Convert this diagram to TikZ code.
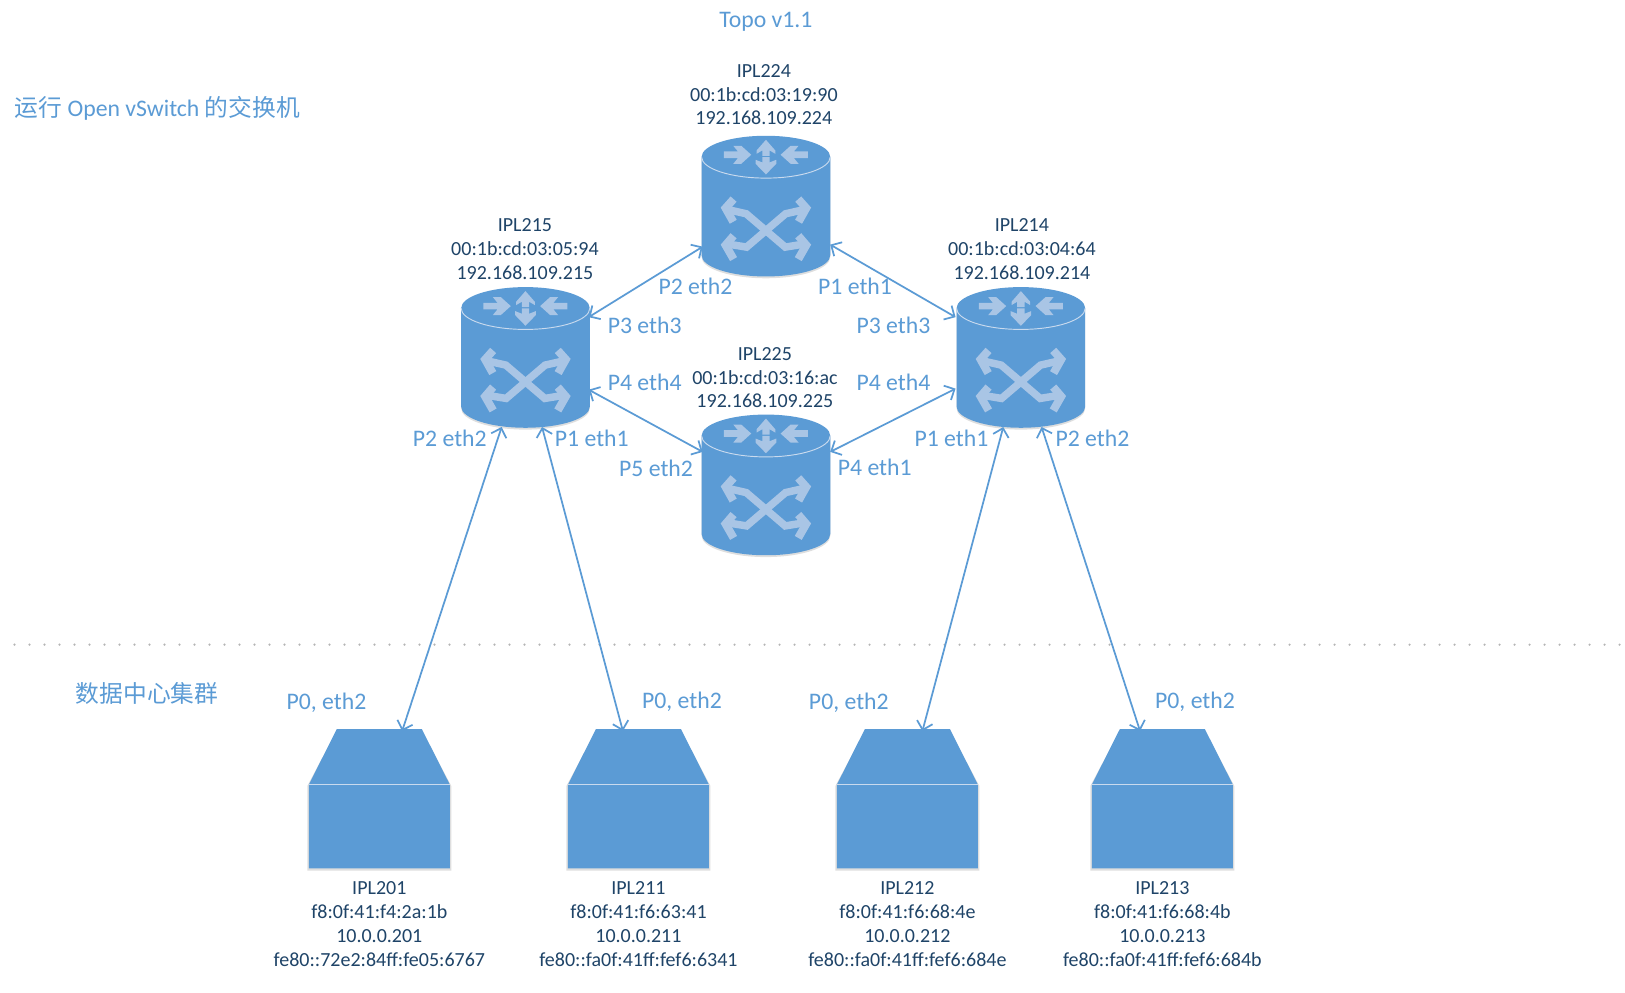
\documentclass[tikz,border=0pt]{standalone}
\usepackage{fontspec}
\setmainfont{Carlito}
\newfontfamily\cjkf{Noto Sans CJK SC}
\usetikzlibrary{arrows.meta,calc}
\definecolor{blueA}{HTML}{5B9BD5}
\definecolor{iconA}{HTML}{A9C5E5}
\definecolor{rimA}{HTML}{C9DAEE}
\definecolor{inkA}{HTML}{1F4468}
\definecolor{dotA}{HTML}{B5B5B5}
\tikzset{
  anchorbox/.style={inner sep=0pt,outer sep=0pt},
  switchbox/.style={anchorbox,minimum width=96.4pt,minimum height=106.5pt,anchor=north},
  serverbox/.style={anchorbox,minimum width=105.7pt,minimum height=104.9pt,anchor=north},
  info/.style={align=center,text=inkA,font=\fontsize{15}{17.9}\selectfont,inner sep=0pt,yshift=-.3pt},
  tag/.style={text=blueA,font=\fontsize{17.8}{21}\selectfont,inner sep=0pt,yshift=-.2pt},
  link/.style={draw=blueA,line width=1.3pt,{Straight Barb[length=6pt,width=12pt]}-{Straight Barb[length=6pt,width=12pt]}},
  soft/.style={fill=black,opacity=.13,draw=none},
  iconfill/.style={fill=iconA,draw=none},
  iconline/.style={draw=iconA,line join=miter},
}
\newcommand{\switchnode}[3]{%
  \node[switchbox] (#1) at (#2,#3) {};
  \begin{scope}[shift={(#1.north)},x=.25pt,y=-.25pt]
    \path[soft] (-193,69) -- (-193,364) arc[x radius=193,y radius=63.5,start angle=180,end angle=0] -- (193,69) arc[x radius=193,y radius=63.5,start angle=0,end angle=-180] -- cycle;
    \path[fill=blueA] (-193,63.5) -- (-193,358.5) arc[x radius=193,y radius=63.5,start angle=180,end angle=0] -- (193,63.5) arc[x radius=193,y radius=63.5,start angle=0,end angle=-180] -- cycle;
    \draw[rimA,line width=.7pt] (-193,63.5) arc[x radius=193,y radius=63.5,start angle=180,end angle=0];
    \foreach \s in {1,-1}{
      \begin{scope}[xscale=\s]
        \path[iconfill] (-126,47) -- (-84,47) -- (-98,30) -- (-74,30) -- (-44,57) -- (-74,84) -- (-98,84) -- (-84,67) -- (-126,67) -- cycle;
        \draw[iconline,line width=5.6pt] (112,222) -- (59,234) -- (-58,334) -- (-113,325);
        \draw[iconline,line width=6pt] (97,190) -- (121,217) -- (98,258);
        \draw[iconline,line width=6pt] (-97,300) -- (-121,328) -- (-97,370);
      \end{scope}
    }
    \path[iconfill] (0,12) -- (28,44) -- (28,54) -- (11,44) -- (11,60) -- (-11,60) -- (-11,44) -- (-28,54) -- (-28,44) -- cycle;
    \path[iconfill] (-11,64) -- (11,64) -- (11,80) -- (31,72) -- (31,84) -- (0,116) -- (-31,84) -- (-31,72) -- (-11,80) -- cycle;
  \end{scope}
}
\newcommand{\servernode}[3]{%
  \node[serverbox] (#1) at (#2,#3) {};
  \begin{scope}[shift={(#1.north)}]
    \path[soft] (-41,1.5) -- (41,1.5) -- (69.5,55) -- (69.5,136.5) -- (-69.5,136.5) -- (-69.5,55) -- cycle;
    \path[fill=blueA] (-41,0) -- (41,0) -- (68,53.6) -- (68,134.5) -- (-68,134.5) -- (-68,53.6) -- cycle;
    \draw[rimA,line width=.7pt] (-68,53.6) -- (68,53.6);
  \end{scope}
}
\begin{document}
\begin{tikzpicture}[x=.7773pt,y=-.7773pt]
\useasboundingbox[fill=white] (0,0) rectangle (1567.9,958.1);

\node[tag] (title) at (739,21) {Topo v1.1};
\node[tag,anchor=west] (upper) at (14,104) {{\cjkf 运行} Open vSwitch {\cjkf 的交换机}};
\node[tag] (lower) at (142,669) {\cjkf 数据中心集群};

\draw[dotA,line width=1.8pt,line cap=round,dash pattern=on 0pt off 11.25pt] (14,622) -- (1567,622);

\switchnode{swA}{739}{131}
\switchnode{swB}{507}{277}
\switchnode{swC}{985}{277}
\switchnode{swD}{739}{400}

\servernode{srvA}{366}{703.4}
\servernode{srvB}{616}{703.4}
\servernode{srvC}{875.5}{703.4}
\servernode{srvD}{1121.5}{703.4}

\node[info] (tA) at (737,91) {IPL224\\00:1b:cd:03:19:90\\192.168.109.224};
\node[info] (tB) at (506.5,240) {IPL215\\00:1b:cd:03:05:94\\192.168.109.215};
\node[info] (tC) at (986,240) {IPL214\\00:1b:cd:03:04:64\\192.168.109.214};
\node[info] (tD) at (738,364) {IPL225\\00:1b:cd:03:16:ac\\192.168.109.225};
\node[info] (tE) at (366,891.5) {IPL201\\f8:0f:41:f4:2a:1b\\10.0.0.201\\fe80::72e2:84ff:fe05:6767};
\node[info] (tF) at (616,891.5) {IPL211\\f8:0f:41:f6:63:41\\10.0.0.211\\fe80::fa0f:41ff:fef6:6341};
\node[info] (tG) at (875.5,891.5) {IPL212\\f8:0f:41:f6:68:4e\\10.0.0.212\\fe80::fa0f:41ff:fef6:684e};
\node[info] (tH) at (1121.5,891.5) {IPL213\\f8:0f:41:f6:68:4b\\10.0.0.213\\fe80::fa0f:41ff:fef6:684b};

\draw[link] ($(swB.north)+(61,29)$) -- ($(swA.north)+(-61,107)$);
\draw[link] ($(swA.north)+(62,105)$) -- ($(swC.north)+(-63,29)$);
\draw[link] ($(swB.north)+(61,99)$) -- ($(swD.north)+(-61,36)$);
\draw[link] ($(swD.north)+(62,36)$) -- ($(swC.north)+(-63,98)$);
\draw[link] ($(swB.north)+(-23,135)$) -- ($(srvA.north)+(22,2)$);
\draw[link] ($(swB.north)+(16,135)$) -- ($(srvB.north)+(-15,2)$);
\draw[link] ($(swC.north)+(-17,135)$) -- ($(srvC.north)+(14.5,2)$);
\draw[link] ($(swC.north)+(20,135)$) -- ($(srvD.north)+(-21.5,2)$);

\node[tag] (l1) at (671,276) {P2 eth2};
\node[tag] (l2) at (825,276) {P1 eth1};
\node[tag] (l3) at (622,314) {P3 eth3};
\node[tag] (l4) at (862,314) {P3 eth3};
\node[tag] (l5) at (622,369) {P4 eth4};
\node[tag] (l6) at (862,369) {P4 eth4};
\node[tag] (l7) at (633,452) {P5 eth2};
\node[tag] (l8) at (844,451) {P4 eth1};
\node[tag] (l9) at (434,423) {P2 eth2};
\node[tag] (l10) at (571,423) {P1 eth1};
\node[tag] (l11) at (918,423) {P1 eth1};
\node[tag] (l12) at (1054,423) {P2 eth2};
\node[tag] (l13) at (315,678) {P0, eth2};
\node[tag] (l14) at (658,677) {P0, eth2};
\node[tag] (l15) at (819,678) {P0, eth2};
\node[tag] (l16) at (1153,677) {P0, eth2};
\end{tikzpicture}
\end{document}
